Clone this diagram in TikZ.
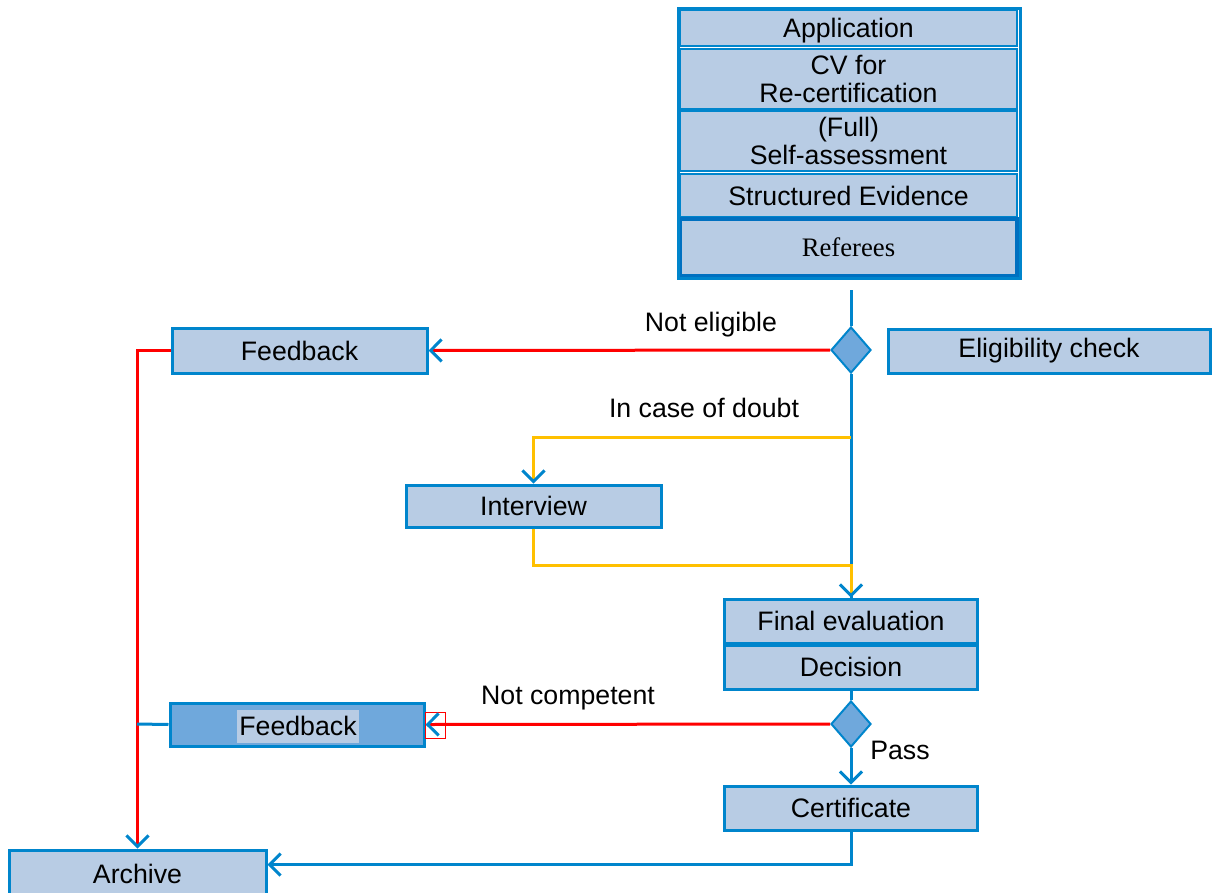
\documentclass[tikz,border=0pt]{standalone}
\usepackage{fontspec}
\setmainfont{Liberation Sans}
\newfontfamily\serifface{Liberation Serif}
\usetikzlibrary{arrows.meta,shapes.geometric,calc}
\definecolor{bl}{RGB}{0,133,204}
\definecolor{dbl}{RGB}{0,112,192}
\definecolor{lfill}{RGB}{184,204,228}
\definecolor{dfill}{RGB}{111,168,220}
\definecolor{yel}{RGB}{255,192,0}
\definecolor{rd}{RGB}{255,0,0}
\tikzset{
  box/.style={draw=bl, fill=lfill, line width=3pt, inner sep=0pt, font=\fontsize{26.7}{28}\selectfont, align=center},
  subbox/.style={draw=bl, fill=lfill, line width=2pt, inner sep=0pt, minimum width=337pt, font=\fontsize{26.7}{28}\selectfont, align=center},
  dia/.style={diamond, draw=bl, fill=dfill, line width=2pt, inner sep=0pt, minimum width=40pt, minimum height=46pt, aspect=0.87},
  lbl/.style={font=\fontsize{26.7}{28}\selectfont, inner sep=0pt},
  tip/.style={-{Straight Barb[length=11pt,width=22pt,color=bl]}},
  bline/.style={draw=bl, line width=3pt},
  rline/.style={draw=rd, line width=3pt},
  yline/.style={draw=yel, line width=3pt},
}
\begin{document}
\begin{tikzpicture}[x=1pt,y=-1pt]
\useasboundingbox (0,0) rectangle (1213,892);
\begin{scope}
\clip (0,0) rectangle (1213,892);
% top stack
\node[subbox, minimum height=36pt, text depth=0pt] (app) at (848.5,28) {Application};
\node[subbox, minimum height=60pt] (cv) at (848.5,79) {CV for\\Re-certification};
\node[subbox, minimum height=60pt] (full) at (848.5,141) {(Full)\\Self-assessment};
\node[subbox, minimum height=43pt] (struct) at (848.5,195.5) {Structured Evidence};
\node[subbox, draw=dbl, line width=4pt, minimum height=57pt, font=\serifface\fontsize{26.7}{28}\selectfont] (ref) at (848.5,247.5) {Referees};
\draw[bl, line width=3pt] (678,8) rectangle (1020,278);
\coordinate (start) at (851,290);

% nodes
\node[dia] (d1) at (851,350) {};
\node[box, minimum width=322pt, minimum height=44pt] (elig) at (1049,351) {Eligibility check};
\node[box, minimum width=255pt, minimum height=45pt] (fb1) at (299.5,350.5) {Feedback};
\node[box, minimum width=255pt, minimum height=42pt] (iv) at (533.5,506) {Interview};
\node[box, minimum width=253pt, minimum height=44pt] (fe) at (851,621) {Final evaluation};
\node[box, minimum width=253pt, minimum height=44pt] (dec) at (851,667) {Decision};
\node[dia] (d2) at (851,724) {};
\node[box, fill=dfill, minimum width=254pt, minimum height=43pt] (fb2) at (297,724.5) {};
\node[lbl, fill=lfill, minimum width=122pt, minimum height=33pt] (fb2t) at (298,726) {Feedback};
\node[box, minimum width=253pt, minimum height=44pt] (cert) at (851,808) {Certificate};
\node[box, minimum width=257pt, minimum height=48pt] (arch) at (137.5,874) {Archive};

% labels
\node[lbl] (l1) at (711,325) {Not eligible};
\node[lbl] (l2) at (704,408) {In case of doubt};
\node[lbl] (l3) at (568,698) {Not competent};
\node[lbl] (l4) at (900,750) {Pass};

% connectors
\coordinate (ysplit) at (851,437);
\coordinate (ybend) at (851,565);
\coordinate (rj) at (137,724);
\draw[bline] (start) -- (d1.north);
\draw[bline] (d1.south) -- (fe.north);
\draw[yline, tip] (ysplit) -| (iv.north);
\draw[yline, tip] (iv.south) |- (ybend) -- (fe.north);
\draw[rline, tip] (d1.west) -- (fb1.east);
\draw[rline, tip] (fb1.west) -| (arch.north);
\draw[bline] (dec.south) -- (d2.north);
\draw[rd, line width=1pt] (425,712) rectangle (445,738);
\draw[rline, tip] (d2.west) -- (fb2.east);
\draw[bline] (fb2.west) -- (rj);
\draw[bline, tip] (d2.south) -- (cert.north);
\draw[bline, tip] (cert.south) |- ($(arch.north east)+(0,16)$);
\end{scope}
\end{tikzpicture}
\end{document}
